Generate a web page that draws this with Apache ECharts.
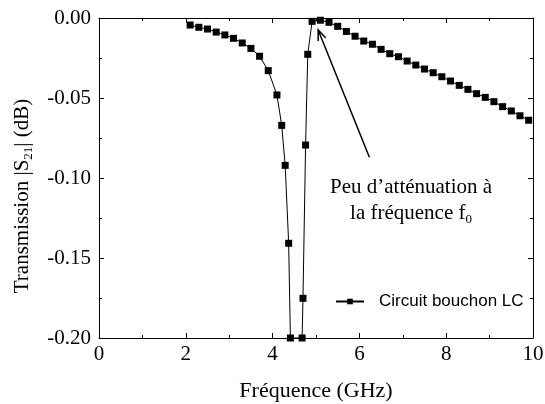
<!DOCTYPE html>
<html><head><meta charset="utf-8">
<script src="https://cdn.jsdelivr.net/npm/echarts@6/dist/echarts.min.js"></script>
<style>html,body{margin:0;padding:0;background:#fff}#c{width:545px;height:404px}</style>
</head><body><div id="c"></div>
<script>
// Data
const freq = [2.1,2.3,2.5,2.7,2.9,3.1,3.3,3.5,3.7,3.9,4.1,4.21,4.29,4.37,4.41,4.68,4.70,4.76,4.81,4.91,
  5.1,5.3,5.5,5.7,5.9,6.1,6.3,6.5,6.7,6.9,7.1,7.3,7.5,7.7,7.9,8.1,8.3,8.5,8.7,8.9,9.1,9.3,9.5,9.7,9.9];
const s21 = [-0.0044,-0.0058,-0.0069,-0.0088,-0.0106,-0.0127,-0.0156,-0.0190,-0.0239,-0.0329,-0.0481,
  -0.0671,-0.0921,-0.1408,-0.2000,-0.2000,-0.1752,-0.0794,-0.0227,-0.0021,
  -0.0014,-0.0027,-0.0052,-0.0084,-0.0114,-0.0144,-0.0164,-0.0196,-0.0223,-0.0242,-0.0269,-0.0294,
  -0.0319,-0.0342,-0.0367,-0.0394,-0.0421,-0.0446,-0.0473,-0.0496,-0.0523,-0.0554,-0.0581,-0.0611,-0.0639];
const seriesName = 'Circuit bouchon LC';
const xRange = [0, 10, 2];
const yRange = [-0.20, 0.00, 0.05];
const arrowFrom = [6.23, -0.087];
const arrowTo = [5.05, -0.0075];
const annotLines = ['Peu d\u2019atténuation à', 'la fréquence f', '0'];

const SERIF = 'Liberation Serif';
const SANS = 'Liberation Sans';
const chart = echarts.init(document.getElementById('c'), null, {renderer: 'canvas'});

function frameAxis(extra) {
  return Object.assign({
    axisLine: {show: true, onZero: false, lineStyle: {color: '#000', width: 1}},
    axisTick: {show: true, inside: true, length: 5, lineStyle: {color: '#000', width: 1}},
    minorTick: {show: true, splitNumber: 2, length: 3, lineStyle: {color: '#000', width: 1}},
    splitLine: {show: false}
  }, extra);
}

const option = {
  animation: false,
  backgroundColor: '#fff',
  grid: {left: 99, right: 12, top: 18, bottom: 66, containLabel: false, outerBoundsMode: 'none'},
  xAxis: [
    frameAxis({type: 'value', min: xRange[0], max: xRange[1], interval: xRange[2], position: 'bottom',
      axisLabel: {show: true, color: '#000', fontFamily: SERIF, fontSize: 21, margin: 6},
      name: 'Fréquence (GHz)', nameLocation: 'middle', nameGap: 42,
      nameTextStyle: {color: '#000', fontFamily: SERIF, fontSize: 22}}),
    frameAxis({type: 'value', min: xRange[0], max: xRange[1], interval: xRange[2], position: 'top',
      axisLabel: {show: false}})
  ],
  yAxis: [
    frameAxis({type: 'value', min: yRange[0], max: yRange[1], interval: yRange[2], position: 'left',
      axisLabel: {show: true, color: '#000', fontFamily: SERIF, fontSize: 21, margin: 8,
        formatter: v => v.toFixed(2)},
      name: '{t|Transmission |S}{s|21}{t|| (dB)}', nameLocation: 'middle', nameGap: 64, nameRotate: 90,
      nameTextStyle: {color: '#000', fontFamily: SERIF, fontSize: 21, padding: [0, 36, 0, 0],
        rich: {t: {fontFamily: SERIF, fontSize: 21, color: '#000', lineHeight: 26},
               s: {fontFamily: SERIF, fontSize: 13, color: '#000', lineHeight: 12, verticalAlign: 'bottom'}}}}),
    frameAxis({type: 'value', min: yRange[0], max: yRange[1], interval: yRange[2], position: 'right',
      axisLabel: {show: false}})
  ],
  legend: {
    show: true, left: 335, top: 293, padding: 0, itemWidth: 28, itemHeight: 7,
    textStyle: {color: '#000', fontFamily: SANS, fontSize: 17, padding: [0, 0, 0, 10]},
    data: [seriesName]
  },
  series: [{
    name: seriesName, type: 'line', xAxisIndex: 0, yAxisIndex: 0,
    data: freq.map((f, i) => [f, s21[i]]),
    symbol: 'rect', symbolSize: 7, showAllSymbol: true,
    itemStyle: {color: '#000'},
    lineStyle: {color: '#000', width: 1},
    clip: true
  }]
};
chart.setOption(option);

// arrow + annotation, positioned via the chart's own coordinate conversion
const p0 = chart.convertToPixel({gridIndex: 0}, arrowFrom);
const p1 = chart.convertToPixel({gridIndex: 0}, arrowTo);
const dx = p1[0] - p0[0], dy = p1[1] - p0[1];
const ang = Math.atan2(dy, dx);
const headLen = 11, headAng = 0.38;
const h1 = [p1[0] - headLen * Math.cos(ang - headAng), p1[1] - headLen * Math.sin(ang - headAng)];
const h2 = [p1[0] - headLen * Math.cos(ang + headAng), p1[1] - headLen * Math.sin(ang + headAng)];
const textAnchor = chart.convertToPixel({gridIndex: 0}, [7.19, -0.1138]);

chart.setOption({
  graphic: [
    {type: 'line', shape: {x1: p0[0], y1: p0[1], x2: p1[0], y2: p1[1]},
      style: {stroke: '#000', lineWidth: 1.5}, silent: true, z: 10},
    {type: 'polyline', shape: {points: [h1, p1, h2]},
      style: {stroke: '#000', lineWidth: 1.5, fill: null}, silent: true, z: 10},
    {type: 'text', x: textAnchor[0], y: textAnchor[1], silent: true, z: 10,
      style: {
        text: '{t|' + annotLines[0] + '}\n{t|' + annotLines[1] + '}{s|' + annotLines[2] + '}',
        align: 'center', verticalAlign: 'middle', fill: '#000',
        rich: {t: {fontFamily: SERIF, fontSize: 21, fill: '#000', lineHeight: 26, align: 'center'},
               s: {fontFamily: SERIF, fontSize: 13, fill: '#000', lineHeight: 12, verticalAlign: 'bottom', align: 'center'}}
      }}
  ]
});
</script>
</body></html>
